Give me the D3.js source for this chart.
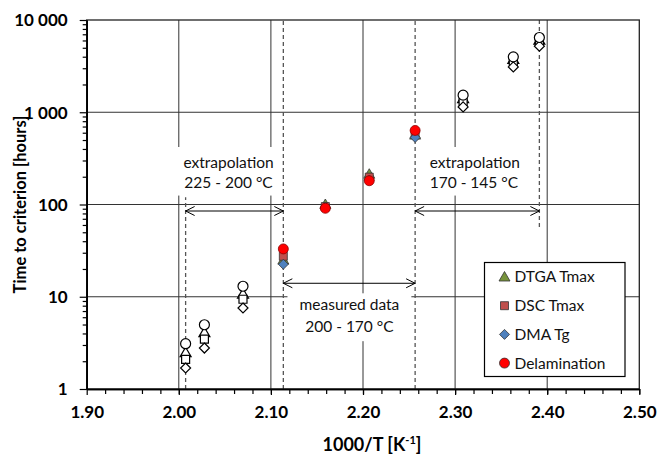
<!DOCTYPE html>
<html>
<head>
<meta charset="utf-8">
<script src="https://cdn.jsdelivr.net/npm/d3@7"></script>
<style>
  body { margin:0; background:#fff; }
  text { font-family: Lato, "Open Sans", sans-serif; }
</style>
</head>
<body>
<script>

// 1000/T for the test temperatures (°C)
var measuredX = [2.1135, 2.1591, 2.2068, 2.2566];        // 200, 190, 180, 170 °C
var extrapX   = [2.0074, 2.0278, 2.0697, 2.3087, 2.3632, 2.3915]; // 225, 220, 210, 160, 150, 145 °C

// time to criterion [hours], measured
var dtgaMeasured  = [25, 100, 213, 565];
var dscMeasured   = [27.5, 95, 198, 590];
var dmaMeasured   = [22.5, 93, 184, 533];
var delamMeasured = [33, 91, 181, 635];

// time to criterion [hours], extrapolated
var dtgaExtrap  = [2.47, 4.07, 10.7, 1408, 3733, 6040];
var dscExtrap   = [2.1, 3.48, 9.4, 1296, 3490, 5745];
var dmaExtrap   = [1.69, 2.78, 7.55, 1143, 3100, 5200];
var delamExtrap = [3.1, 4.97, 13, 1532, 3985, 6460];

var xTicks = [1.90, 2.00, 2.10, 2.20, 2.30, 2.40, 2.50];
var yTicks = [1, 10, 100, 1000, 10000];
var yTickLabels = ["1", "10", "100", "1 000", "10 000"];

var seriesNames = ["DTGA Tmax", "DSC Tmax", "DMA Tg", "Delamination"];
var seriesColors = ["#77933C", "#C0504D", "#4F81BD", "#FF0000"];
var seriesShapes = ["triangle", "square", "diamond", "circle"];

// dashed reference lines at 225, 200, 170, 145 °C  [x, from hours, to hours]
var refLines = [[2.0074, 1, 120], [2.1135, 1, 10000], [2.2566, 1, 10000], [2.3915, 57, 10000]];

var width = 659, height = 458;
var margins = {top:20, left:86.7, bottom:69, right:19.7};

var xScale = d3.scaleLinear()
              .domain([1.9, 2.5])
              .range([margins.left, width - margins.right]);
var yScale = d3.scaleLog()
              .domain([1, 10000])
              .range([height - margins.bottom, margins.top]);

var svg = d3.select("body")
    .append("svg")
    .attr("width", width)
    .attr("height", height);

var shapePath = function(shape)
{
  if (shape == "triangle") return "M0,-5.5L5.5,4L-5.5,4Z";
  if (shape == "square") return "M-4,-4H4V4H-4Z";
  if (shape == "diamond") return "M0,-5L5,0L0,5L-5,0Z";
  return "M-5,0A5,5 0 1,0 5,0A5,5 0 1,0 -5,0Z";
};

// grid
var grid = svg.append("g").classed("grid", true);
grid.selectAll("line.v")
    .data(xTicks.slice(1, -1))
    .enter()
    .append("line")
    .attr("x1", function(d){return xScale(d);})
    .attr("x2", function(d){return xScale(d);})
    .attr("y1", yScale(1))
    .attr("y2", yScale(10000))
    .attr("stroke", "#333")
    .attr("stroke-width", 1);
grid.selectAll("line.h")
    .data(yTicks.slice(1, -1))
    .enter()
    .append("line")
    .attr("x1", xScale(1.9))
    .attr("x2", xScale(2.5))
    .attr("y1", function(d){return yScale(d);})
    .attr("y2", function(d){return yScale(d);})
    .attr("stroke", "#333")
    .attr("stroke-width", 1);

// dashed lines
svg.selectAll("line.ref")
    .data(refLines)
    .enter()
    .append("line")
    .attr("x1", function(d){return xScale(d[0]);})
    .attr("x2", function(d){return xScale(d[0]);})
    .attr("y1", function(d){return yScale(d[1]);})
    .attr("y2", function(d){return yScale(d[2]);})
    .attr("stroke", "#555")
    .attr("stroke-width", 1.3)
    .attr("stroke-dasharray", "4,3");

// frame
svg.append("rect")
    .attr("x", xScale(1.9))
    .attr("y", yScale(10000))
    .attr("width", xScale(2.5) - xScale(1.9))
    .attr("height", yScale(1) - yScale(10000))
    .attr("fill", "none")
    .attr("stroke", "#222")
    .attr("stroke-width", 1.3);

// axes
var xAxis = d3.axisBottom(xScale)
              .tickValues(xTicks)
              .tickFormat(d3.format(".2f"))
              .tickSizeInner(6).tickSizeOuter(0);
var xMinor = d3.axisBottom(xScale)
              .tickValues(d3.range(1.92, 2.5, 0.02))
              .tickFormat("")
              .tickSizeInner(5).tickSizeOuter(0);
var yMinorVals = [];
[1, 10, 100, 1000].forEach(function(dec){
  for (var k = 2; k < 10; k++) yMinorVals.push(dec * k);
});
var yAxis = d3.axisLeft(yScale)
              .tickValues(yTicks)
              .tickFormat(function(d, i){return yTickLabels[i];})
              .tickSizeInner(7).tickSizeOuter(0);
var yMinor = d3.axisLeft(yScale)
              .tickValues(yMinorVals)
              .tickFormat("")
              .tickSizeInner(4).tickSizeOuter(0);

var gx = svg.append("g").attr("transform", "translate(0," + yScale(1) + ")").call(xAxis);
svg.append("g").attr("transform", "translate(0," + yScale(1) + ")").call(xMinor);
var gy = svg.append("g").attr("transform", "translate(" + xScale(1.9) + ",0)").call(yAxis);
svg.append("g").attr("transform", "translate(" + xScale(1.9) + ",0)").call(yMinor);

svg.selectAll(".domain").attr("stroke", "#000").attr("stroke-width", 1.5);
svg.selectAll(".tick line").attr("stroke", "#000").attr("stroke-width", 1.2);
gx.selectAll("text")
    .attr("font-family", "'Open Sans', sans-serif")
    .attr("font-size", 17)
    .attr("font-weight", "bold")
    .attr("fill", "#000")
    .attr("dy", "1.2em");
gy.selectAll("text")
    .attr("font-family", "'Open Sans', sans-serif")
    .attr("font-size", 17)
    .attr("font-weight", "bold")
    .attr("fill", "#000")
    .attr("x", -19)
    .attr("dy", "0.35em");

// axis titles
var xTitle = svg.append("text")
    .attr("x", 372)
    .attr("y", 451)
    .attr("text-anchor", "middle")
    .attr("font-size", 18)
    .attr("font-weight", "bold");
xTitle.append("tspan").text("1000/T [K");
xTitle.append("tspan").attr("dy", -7).attr("font-size", 11).text("-1");
xTitle.append("tspan").attr("dy", 7).text("]");

svg.append("text")
    .attr("transform", "translate(26," + ((yScale(1) + yScale(10000)) / 2) + ") rotate(-90)")
    .attr("text-anchor", "middle")
    .attr("font-size", 16.5)
    .attr("font-weight", "bold")
    .text("Time to criterion [hours]");

// annotations
var annotations = [
  {lines:["extrapolation", "225 - 200 °C"], x0:2.0074, x1:2.1135, arrowY:85, textY:[288, 171], anchor:"middle", box:[1.997, 2.111, 420, 125]},
  {lines:["extrapolation", "170 - 145 °C"], x0:2.2566, x1:2.3915, arrowY:85, textY:[288, 171], anchor:"start", box:[2.267, 2.385, 420, 125]},
  {lines:["measured data", "200 - 170 °C"], x0:2.1135, x1:2.2566, arrowY:14.0, textY:[8.2, 4.7], anchor:"middle", box:[2.118, 2.2525, 10.9, 3.3]}
];

annotations.forEach(function(a)
{
  var bx0 = xScale(a.box[0]), bx1 = xScale(a.box[1]);
  svg.append("rect")
      .attr("x", bx0)
      .attr("y", yScale(a.box[2]))
      .attr("width", bx1 - bx0)
      .attr("height", yScale(a.box[3]) - yScale(a.box[2]))
      .attr("fill", "#fff");
  var tx = a.anchor == "middle" ? (bx0 + bx1) / 2 : bx0 + 5;
  a.lines.forEach(function(l, i){
    svg.append("text")
        .attr("x", tx)
        .attr("y", yScale(a.textY[i]))
        .attr("dy", "0.35em")
        .attr("text-anchor", a.anchor)
        .attr("font-size", 15.5)
        .attr("fill", "#111")
        .text(l);
  });
  var ax0 = xScale(a.x0), ax1 = xScale(a.x1), ay = yScale(a.arrowY);
  svg.append("line")
      .attr("x1", ax0).attr("x2", ax1).attr("y1", ay).attr("y2", ay)
      .attr("stroke", "#000").attr("stroke-width", 1);
  svg.append("path")
      .attr("d", "M" + (ax0 + 9) + "," + (ay - 4.5) + "L" + ax0 + "," + ay + "L" + (ax0 + 9) + "," + (ay + 4.5))
      .attr("fill", "none").attr("stroke", "#000").attr("stroke-width", 1);
  svg.append("path")
      .attr("d", "M" + (ax1 - 9) + "," + (ay - 4.5) + "L" + ax1 + "," + ay + "L" + (ax1 - 9) + "," + (ay + 4.5))
      .attr("fill", "none").attr("stroke", "#000").attr("stroke-width", 1);
});

// points
var extrapSeries = [dtgaExtrap, dscExtrap, dmaExtrap, delamExtrap];
var measuredSeries = [dtgaMeasured, dscMeasured, dmaMeasured, delamMeasured];

var plot = svg.append("g").classed("plot", true);

extrapSeries.forEach(function(vals, s)
{
  plot.append("g").selectAll("path")
      .data(vals)
      .enter()
      .append("path")
      .attr("transform", function(d, i){return "translate(" + xScale(extrapX[i]) + "," + yScale(d) + ")";})
      .attr("d", shapePath(seriesShapes[s]))
      .attr("fill", "#fff")
      .attr("stroke", "#000")
      .attr("stroke-width", 1.2);
});

measuredSeries.forEach(function(vals, s)
{
  plot.append("g").selectAll("path")
      .data(vals)
      .enter()
      .append("path")
      .attr("transform", function(d, i){return "translate(" + xScale(measuredX[i]) + "," + yScale(d) + ")";})
      .attr("d", shapePath(seriesShapes[s]))
      .attr("fill", seriesColors[s])
      .attr("stroke", s == 3 ? "#8b0000" : "#333")
      .attr("stroke-width", 0.8);
});

// legend
var legend = svg.append("g")
    .classed("legend", true)
    .attr("transform", "translate(484.5,262.5)");
legend.append("rect")
    .attr("width", 140.5)
    .attr("height", 114)
    .attr("fill", "#fff")
    .attr("stroke", "#000")
    .attr("stroke-width", 1.2);
var legendLines = legend.selectAll("g")
    .data(seriesNames)
    .enter()
    .append("g")
    .attr("transform", function(d, i){return "translate(20," + (14.5 + i * 28.7) + ")";});
legendLines.append("path")
    .attr("d", function(d, i){return shapePath(seriesShapes[i]);})
    .attr("fill", function(d, i){return seriesColors[i];})
    .attr("stroke", "#333")
    .attr("stroke-width", 0.8);
legendLines.append("text")
    .attr("x", 10)
    .attr("dy", "0.35em")
    .attr("font-size", 15.5)
    .attr("fill", "#111")
    .text(function(d){return d;});

</script>
</body>
</html>
